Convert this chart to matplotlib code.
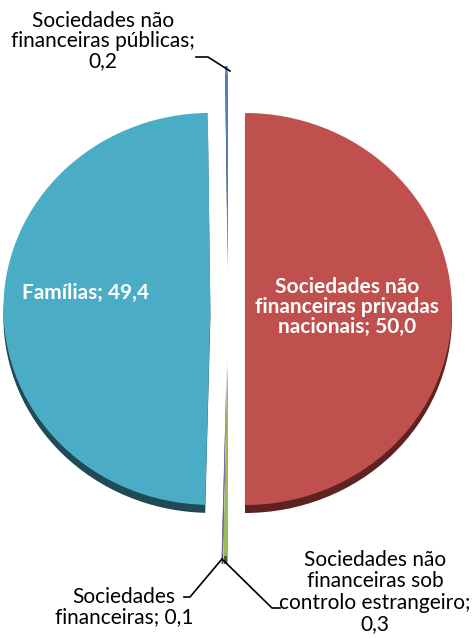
import matplotlib.pyplot as plt
import numpy as np

plt.rcParams['font.family'] = ['Lato', 'DejaVu Sans']

# order: clockwise from 12 o'clock
labels = ['Sociedades não\nfinanceiras privadas\nnacionais',
          'Sociedades não\nfinanceiras sob\ncontrolo estrangeiro',
          'Sociedades\nfinanceiras',
          'Famílias',
          'Sociedades não\nfinanceiras públicas']
values = [50.0, 0.3, 0.1, 49.4, 0.2]
colors = ['#C0504D', '#9BBB59', '#8064A2', '#4BACC6', '#4F81BD']
shade = ['#5e2321', '#4d5e2a', '#3f3150', '#1f4a56', '#27405e']
explode = [0.082, 0.26, 0.26, 0.085, 0.24]

W, H = 474, 639
cx, cy = 228, 309          # pie centre in pixels
rx, ry = 207, 196          # pixels per data unit

fig = plt.figure(figsize=(W / 100, H / 100), dpi=100)
ax = fig.add_axes([0, 0, 1, 1])


def px(x, y):
    return (x - cx) / rx, (cy - y) / ry


def fmt(v):
    return f'{v:.1f}'.replace('.', ',')


# dark rim underneath for the 3D look
ax.pie(values, colors=shade, explode=explode, startangle=90, counterclock=False,
       radius=1.0, center=(0, -8 / ry), wedgeprops=dict(linewidth=0),
       frame=True)
wedges, _ = ax.pie(values, colors=colors, explode=explode, startangle=90,
                   counterclock=False, radius=1.0,
                   wedgeprops=dict(linewidth=0), frame=True)
ax.set_xlim(-cx / rx, (W - cx) / rx)
ax.set_ylim(-(H - cy) / ry, cy / ry)
ax.set_aspect('auto')
ax.axis('off')

fs_out = 15
fs_in = 15

# inside labels
ax.text(*px(85, 293), f'{labels[3]}; {fmt(values[3])}', color='white',
        fontsize=fs_in, fontweight='bold', ha='center', va='center')
ax.text(*px(347, 307), f'{labels[0]}; {fmt(values[0])}', color='white',
        fontsize=fs_in, fontweight='bold', ha='center', va='center',
        linespacing=1.0)

# outside labels with leader lines
ax.text(*px(103, 41), f'{labels[4]};\n{fmt(values[4])}', fontsize=fs_out,
        ha='center', va='center', linespacing=1.0)
ax.plot(*zip(px(196, 57), px(208, 57), px(230, 71)), color='black', lw=1.2)

ax.text(*px(124, 607), f'{labels[2]}; {fmt(values[2])}', fontsize=fs_out,
        ha='center', va='center', linespacing=1.05)
ax.plot(*zip(px(184, 597), px(190, 597), px(222, 559)), color='black', lw=1.2)

ax.text(*px(375, 592), f'{labels[1]};\n{fmt(values[1])}', fontsize=fs_out,
        ha='center', va='center', linespacing=1.1)
ax.plot(*zip(px(222, 559), px(272, 608), px(280, 608)), color='black', lw=1.2)

fig.savefig('out.png', dpi=100)
